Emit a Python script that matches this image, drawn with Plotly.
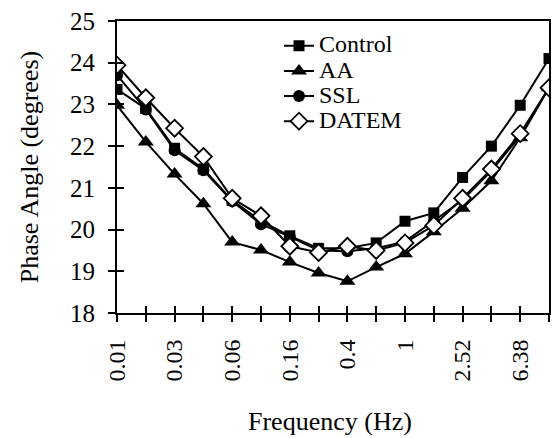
import plotly.graph_objects as go

# Data
freq_categories = ["0.01", "0.016", "0.025", "0.04", "0.063", "0.1", "0.158", "0.25",
                   "0.4", "0.63", "1", "1.59", "2.52", "4", "6.38", "10"]
tick_labels = ["0.01", "0.03", "0.06", "0.16", "0.4", "1", "2.52", "6.38"]

control = [23.36, 22.90, 21.95, 21.45, 20.70, 20.20, 19.85, 19.55,
           19.55, 19.68, 20.20, 20.40, 21.25, 22.00, 22.98, 24.10]
aa      = [22.98, 22.10, 21.33, 20.62, 19.70, 19.51, 19.22, 18.96,
           18.76, 19.10, 19.42, 19.95, 20.51, 21.17, 22.20, 23.40]
ssl     = [23.70, 22.88, 21.90, 21.42, 20.68, 20.13, 19.83, 19.50,
           19.48, 19.55, 19.71, 20.20, 20.71, 21.41, 22.25, 23.40]
datem   = [23.94, 23.16, 22.43, 21.75, 20.75, 20.33, 19.60, 19.45,
           19.60, 19.50, 19.68, 20.10, 20.75, 21.45, 22.30, 23.40]

y_ticks = [18, 19, 20, 21, 22, 23, 24, 25]

FONT = "Liberation Serif"

# interleave labels with blanks for every category tick
ticktext = []
for i, c in enumerate(freq_categories):
    ticktext.append(tick_labels[i // 2] if i % 2 == 0 else "")

series = [
    ("Control", control, dict(symbol="square", size=11, color="black")),
    ("AA", aa, dict(symbol="triangle-up", size=14, color="black")),
    ("SSL", ssl, dict(symbol="circle", size=12, color="black")),
    ("DATEM", datem, dict(symbol="diamond", size=13, color="white",
                          line=dict(color="black", width=1.8))),
]

fig = go.Figure()
for name, vals, mk in series:
    fig.add_trace(go.Scatter(
        x=freq_categories, y=vals, mode="lines+markers",
        name="<span style='font-size:24px'>" + name + "</span>",
        line=dict(color="black", width=2),
        marker=mk,
        xaxis="x", yaxis="y",
    ))

n = len(freq_categories)
fig.update_layout(
    width=558, height=438,
    margin=dict(l=117, r=7, t=21, b=125),
    paper_bgcolor="white", plot_bgcolor="white",
    font=dict(family=FONT, color="black", size=24),
    showlegend=True,
    legend=dict(x=0.375, y=0.975, xanchor="left", yanchor="top",
                bgcolor="rgba(0,0,0,0)",
                font=dict(family=FONT, size=17, color="black"),
                itemwidth=30),
    xaxis=dict(
        type="category", range=[0, n - 1],
        tickmode="array", tickvals=freq_categories, ticktext=ticktext,
        tickangle=-90, ticks="outside", ticklen=7, tickwidth=1.5, tickcolor="black",
        ticklabelstandoff=8,
        showline=True, linecolor="black", linewidth=2, mirror=True,
        showgrid=False, zeroline=False,
        tickfont=dict(family=FONT, size=24, color="black"),
    ),
    yaxis=dict(
        range=[18, 25], tickmode="array", tickvals=y_ticks,
        ticks="outside", ticklen=7, tickwidth=1.5, tickcolor="black",
        ticklabelstandoff=8,
        showline=True, linecolor="black", linewidth=2, mirror=True,
        showgrid=False, zeroline=False,
        tickfont=dict(family=FONT, size=25, color="black"),
    ),
    xaxis2=dict(
        overlaying="x", anchor="y", range=[0, n - 1],
        tickmode="array", tickvals=list(range(n)),
        ticks="inside", ticklen=7, tickwidth=1.5, tickcolor="black",
        showticklabels=False, showline=False, showgrid=False, zeroline=False,
    ),
    yaxis2=dict(
        overlaying="y", anchor="x", side="left", range=[18, 25],
        tickmode="array", tickvals=y_ticks,
        ticks="inside", ticklen=7, tickwidth=1.5, tickcolor="black",
        showticklabels=False, showline=False, showgrid=False, zeroline=False,
    ),
    annotations=[
        dict(text="Phase Angle (degrees)", xref="paper", yref="paper",
             x=-0.203, y=0.50, xanchor="center", yanchor="middle",
             textangle=-90, showarrow=False,
             font=dict(family=FONT, size=26, color="black")),
        dict(text="Frequency (Hz)", xref="paper", yref="paper",
             x=0.493, y=-0.37, xanchor="center", yanchor="middle",
             showarrow=False, font=dict(family=FONT, size=26, color="black")),
    ],
)

# invisible trace to activate overlay axes (inside half of crossing ticks)
fig.add_trace(go.Scatter(x=[0], y=[18], xaxis="x2", yaxis="y2", mode="markers",
                         marker=dict(opacity=0), showlegend=False, hoverinfo="skip"))

fig.write_html("out.html")
